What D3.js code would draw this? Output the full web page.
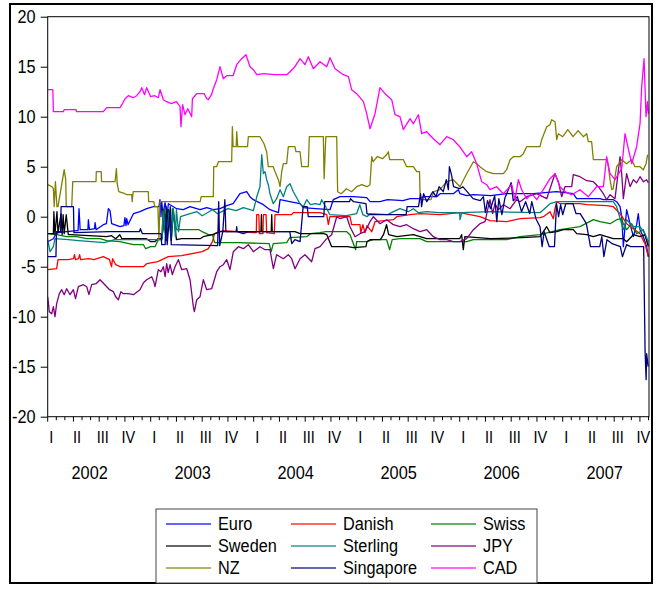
<!DOCTYPE html>
<html>
<head>
<meta charset="utf-8">
<script src="https://cdn.jsdelivr.net/npm/d3@7"></script>
<style>
  body { margin: 0; background: #fff; }
  text { font-family: "Liberation Sans", Arial, sans-serif; fill: #000; }
</style>
</head>
<body>
<svg id="chart" width="665" height="589"></svg>
<script>
// series: [decimal year, value]
const euro = [[2002.0,-2.5],[2002.055,-2.2],[2002.08,-1.7],[2002.104,-1.6],[2002.184,-1.5],[2002.28,-1.4],[2002.295,-1.4],[2002.304,0.8],[2002.315,-1.3],[2002.39,-1.3],[2002.395,-0.3],[2002.405,-1.3],[2002.455,-1.2],[2002.46,-0.6],[2002.47,-1.3],[2002.54,-0.8],[2002.57,-0.7],[2002.589,0.8],[2002.605,0.6],[2002.621,-0.7],[2002.702,-1.0],[2002.74,-0.9],[2002.75,-0.1],[2002.76,-0.9],[2002.767,-0.2],[2002.78,-0.8],[2002.832,0.3],[2002.896,0.5],[2002.961,0.8],[2003.026,1.0],[2003.08,1.0],[2003.09,1.7],[2003.1,0.0],[2003.107,1.5],[2003.12,0.2],[2003.139,1.4],[2003.16,0.3],[2003.172,1.3],[2003.252,0.8],[2003.317,0.7],[2003.382,1.0],[2003.479,0.7],[2003.544,0.9],[2003.608,0.7],[2003.673,0.8],[2003.738,1.1],[2003.80,1.3],[2003.867,2.3],[2003.932,2.5],[2003.964,2.0],[2003.997,1.7],[2004.094,1.2],[2004.158,0.7],[2004.24,0.4],[2004.256,1.7],[2004.35,1.5],[2004.45,1.3],[2004.482,0.9],[2004.6,0.8],[2004.741,0.7],[2004.773,1.7],[2004.838,2.0],[2004.968,2.0],[2005.097,1.9],[2005.13,1.5],[2005.226,1.5],[2005.3,1.7],[2005.45,1.6],[2005.518,1.8],[2005.615,1.8],[2005.647,2.0],[2005.777,2.0],[2005.809,2.3],[2005.938,2.3],[2005.987,2.7],[2006.003,2.3],[2006.07,2.1],[2006.133,2.2],[2006.3,2.1],[2006.456,2.3],[2006.715,2.3],[2006.942,2.5],[2007.103,2.3],[2007.136,1.8],[2007.362,1.8],[2007.395,1.7],[2007.492,1.7],[2007.524,1.5],[2007.557,1.0],[2007.573,0.0],[2007.589,-3.0],[2007.605,-1.0],[2007.621,0.7],[2007.654,-0.7],[2007.686,-2.0],[2007.718,-0.8],[2007.734,0.3],[2007.751,-1.3],[2007.783,-2.0],[2007.815,-3.0],[2007.831,-4.0]];

const danish = [[2002.0,-5.3],[2002.087,-5.2],[2002.1,-4.3],[2002.2,-4.3],[2002.25,-4.2],[2002.26,-3.8],[2002.27,-4.3],[2002.3,-4.2],[2002.31,-3.8],[2002.32,-4.3],[2002.4,-4.2],[2002.45,-4.3],[2002.54,-4.0],[2002.6,-4.3],[2002.62,-5.0],[2002.63,-4.2],[2002.66,-4.8],[2002.702,-5.0],[2002.93,-5.0],[2002.961,-4.7],[2003.07,-4.5],[2003.17,-4.0],[2003.3,-3.9],[2003.5,-3.5],[2003.56,-3.2],[2003.6,-2.5],[2003.62,-1.7],[2003.7,-1.4],[2003.85,-1.5],[2003.997,-1.6],[2004.025,-1.6],[2004.029,0.2],[2004.05,0.2],[2004.055,-1.7],[2004.09,-1.7],[2004.094,0.2],[2004.12,0.2],[2004.126,-1.6],[2004.2,-1.7],[2004.207,0.2],[2004.369,0.2],[2004.385,0.4],[2004.644,0.4],[2004.709,0.2],[2004.725,-0.8],[2004.74,0.0],[2004.935,0.0],[2004.951,-0.8],[2005.032,-0.8],[2005.04,-1.6],[2005.06,-0.8],[2005.08,-1.6],[2005.1,-0.9],[2005.146,-1.5],[2005.178,-0.5],[2005.356,-0.3],[2005.388,0.0],[2005.518,0.2],[2005.615,0.3],[2005.809,0.2],[2006.003,0.4],[2006.197,0.0],[2006.294,-0.4],[2006.456,-0.5],[2006.586,-0.2],[2006.78,-0.1],[2006.812,0.0],[2006.877,0.5],[2006.909,-0.2],[2006.925,0.8],[2006.942,1.5],[2006.974,1.3],[2007.168,1.3],[2007.233,1.2],[2007.427,1.1],[2007.492,1.0],[2007.557,0.3],[2007.621,-0.7],[2007.751,-1.7],[2007.799,-2.7],[2007.831,-4.0]];

const swiss = [[2002.0,-1.7],[2002.087,-1.8],[2002.184,-2.0],[2002.28,-2.0],[2002.379,-2.2],[2002.508,-2.2],[2002.573,-2.4],[2002.7,-2.5],[2002.832,-2.8],[2002.93,-2.8],[2002.951,-3.2],[2003.0,-3.0],[2003.042,-3.0],[2003.074,-2.3],[2003.1,-2.3],[2003.123,-1.3],[2003.13,0.8],[2003.16,-1.3],[2003.17,0.7],[2003.2,-1.4],[2003.21,0.8],[2003.25,-1.3],[2003.3,-1.3],[2003.47,-1.3],[2003.5,-1.5],[2003.56,-1.8],[2003.6,-1.8],[2003.62,-2.6],[2003.85,-2.6],[2004.15,-2.7],[2004.17,-3.5],[2004.19,-2.7],[2004.32,-2.6],[2004.35,-2.1],[2004.515,-2.0],[2004.55,-1.7],[2004.644,-1.6],[2004.7,-1.5],[2004.903,-1.5],[2004.935,-1.8],[2004.99,-3.3],[2005.0,-2.5],[2005.097,-2.5],[2005.162,-2.3],[2005.291,-2.3],[2005.32,-3.3],[2005.345,-2.3],[2005.42,-2.2],[2005.615,-2.2],[2005.68,-2.5],[2006.068,-2.5],[2006.133,-2.3],[2006.456,-2.3],[2006.586,-2.0],[2006.78,-1.8],[2006.974,-1.3],[2007.168,-1.0],[2007.298,-0.3],[2007.362,-0.5],[2007.46,-0.7],[2007.524,-0.3],[2007.573,-0.2],[2007.589,-0.7],[2007.621,-1.3],[2007.67,-0.7],[2007.718,-1.7],[2007.783,-1.3],[2007.831,-2.8]];

const sweden = [[2002.0,-1.7],[2002.055,-1.7],[2002.06,0.5],[2002.07,-1.8],[2002.09,0.5],[2002.1,-1.6],[2002.13,0.3],[2002.14,-1.8],[2002.15,0.2],[2002.16,-1.7],[2002.18,0.2],[2002.2,-1.8],[2002.22,-1.8],[2002.4,-1.9],[2002.573,-2.0],[2002.62,-1.9],[2002.66,-2.2],[2002.7,-1.8],[2002.72,-2.2],[2002.96,-2.2],[2003.0,-2.5],[2003.04,-2.5],[2003.07,-2.2],[2003.11,-2.2],[2003.12,0.7],[2003.15,-2.4],[2003.17,0.7],[2003.2,-2.4],[2003.22,0.6],[2003.25,-2.3],[2003.3,-2.2],[2003.48,-2.2],[2003.51,-2.0],[2003.6,-1.8],[2003.673,-1.5],[2004.07,-1.5],[2004.075,0.2],[2004.08,-1.5],[2004.17,-1.5],[2004.175,0.2],[2004.18,-1.5],[2004.4,-1.5],[2004.45,-1.7],[2004.68,-1.7],[2004.71,-1.8],[2004.757,-3.0],[2004.91,-3.0],[2004.97,-3.1],[2005.09,-3.0],[2005.1,-2.5],[2005.13,-2.3],[2005.23,-2.3],[2005.26,-1.8],[2005.29,-0.8],[2005.31,-1.8],[2005.39,-2.0],[2005.55,-1.8],[2005.615,-2.0],[2005.68,-2.2],[2006.0,-2.2],[2006.019,-1.8],[2006.035,-3.3],[2006.05,-2.0],[2006.3,-2.2],[2006.6,-2.1],[2006.78,-2.0],[2006.845,-1.0],[2006.877,-1.6],[2006.942,-1.5],[2007.006,-1.3],[2007.103,-1.3],[2007.136,-1.7],[2007.233,-1.8],[2007.298,-2.0],[2007.362,-1.8],[2007.427,-2.0],[2007.492,-2.2],[2007.589,-2.2],[2007.621,-2.5],[2007.686,-1.8],[2007.751,-2.0],[2007.799,-1.8],[2007.831,-3.0]];

const sterling = [[2002.0,-2.3],[2002.023,-3.5],[2002.055,-3.0],[2002.071,-2.2],[2002.2,-2.3],[2002.3,-2.4],[2002.55,-2.6],[2002.65,-2.3],[2002.8,-2.3],[2003.11,-2.3],[2003.12,0.6],[2003.15,-2.2],[2003.18,0.6],[2003.2,-2.2],[2003.22,0.8],[2003.24,-2.0],[2003.25,0.7],[2003.27,-1.5],[2003.29,0.0],[2003.35,0.2],[2003.45,0.5],[2003.5,0.1],[2003.55,0.4],[2003.6,0.7],[2003.65,0.3],[2003.75,0.8],[2003.83,0.6],[2003.9,0.9],[2003.997,0.6],[2004.03,2.0],[2004.061,3.0],[2004.078,6.2],[2004.094,4.3],[2004.11,4.5],[2004.126,3.7],[2004.142,3.2],[2004.158,2.3],[2004.19,1.3],[2004.223,1.8],[2004.256,2.7],[2004.288,2.0],[2004.32,3.0],[2004.353,3.3],[2004.385,2.5],[2004.45,1.3],[2004.482,1.0],[2004.515,1.7],[2004.55,1.2],[2004.6,1.3],[2004.644,1.2],[2004.66,1.7],[2004.709,0.8],[2004.74,0.2],[2004.9,0.1],[2004.999,0.3],[2005.03,1.2],[2005.06,0.2],[2005.1,0.0],[2005.13,0.3],[2005.3,0.2],[2005.356,0.5],[2005.42,0.8],[2005.5,0.5],[2005.55,0.8],[2005.6,0.4],[2005.68,0.5],[2005.8,0.4],[2006.0,0.4],[2006.003,-0.3],[2006.02,0.4],[2006.3,0.5],[2006.78,0.4],[2006.877,1.3],[2006.942,1.5],[2007.17,1.5],[2007.49,1.5],[2007.524,1.0],[2007.589,-1.3],[2007.605,-0.7],[2007.621,-0.3],[2007.686,-1.0],[2007.751,-1.0],[2007.799,-1.7],[2007.831,-2.5]];

const jpy = [[2002.0,-8.0],[2002.016,-9.5],[2002.039,-9.7],[2002.055,-9.0],[2002.071,-10.0],[2002.087,-8.7],[2002.113,-7.7],[2002.136,-7.3],[2002.16,-7.8],[2002.184,-7.2],[2002.217,-7.8],[2002.249,-7.3],[2002.27,-8.2],[2002.298,-7.0],[2002.346,-6.8],[2002.379,-7.0],[2002.4,-7.8],[2002.427,-6.8],[2002.47,-6.7],[2002.508,-6.3],[2002.573,-7.0],[2002.6,-7.3],[2002.638,-7.5],[2002.66,-8.0],[2002.686,-8.3],[2002.71,-7.5],[2002.735,-7.7],[2002.783,-7.7],[2002.832,-7.8],[2002.896,-7.3],[2002.93,-6.6],[2002.961,-6.3],[2003.010,-6.0],[2003.03,-6.5],[2003.042,-7.0],[2003.074,-5.3],[2003.1,-5.5],[2003.123,-5.0],[2003.14,-6.0],[2003.155,-4.7],[2003.17,-5.6],[2003.188,-4.8],[2003.21,-5.8],[2003.236,-5.0],[2003.269,-4.3],[2003.301,-5.3],[2003.350,-5.2],[2003.382,-6.3],[2003.414,-9.0],[2003.424,-9.5],[2003.447,-8.3],[2003.479,-8.0],[2003.511,-6.3],[2003.544,-7.3],[2003.592,-7.2],[2003.641,-5.5],[2003.673,-5.0],[2003.705,-4.8],[2003.738,-4.3],[2003.77,-5.3],[2003.802,-3.5],[2003.851,-3.0],[2003.9,-3.2],[2003.948,-2.8],[2003.997,-3.5],[2004.061,-3.0],[2004.11,-3.3],[2004.158,-3.3],[2004.191,-5.2],[2004.223,-3.8],[2004.288,-4.2],[2004.336,-3.8],[2004.369,-4.2],[2004.401,-5.2],[2004.45,-4.2],[2004.498,-3.8],[2004.563,-4.5],[2004.595,-3.2],[2004.644,-3.0],[2004.709,-2.2],[2004.757,-1.8],[2004.806,0.0],[2004.838,-0.2],[2004.903,0.0],[2004.935,-1.0],[2004.984,-2.0],[2005.032,-1.7],[2005.081,-1.5],[2005.129,-0.5],[2005.162,0.0],[2005.226,-0.7],[2005.291,-0.3],[2005.356,-0.8],[2005.42,-1.0],[2005.485,-0.8],[2005.55,-1.2],[2005.615,-1.5],[2005.68,-1.3],[2005.744,-2.0],[2005.809,-2.3],[2005.874,-2.3],[2005.938,-2.5],[2006.003,-2.5],[2006.068,-2.2],[2006.133,-1.3],[2006.197,-0.7],[2006.246,-0.5],[2006.278,1.0],[2006.294,1.7],[2006.32,0.3],[2006.343,1.3],[2006.375,0.7],[2006.424,1.2],[2006.489,0.8],[2006.553,1.7],[2006.586,1.5],[2006.65,2.0],[2006.748,2.3],[2006.845,1.8],[2006.925,4.3],[2006.958,3.5],[2006.99,2.0],[2007.022,3.0],[2007.087,3.0],[2007.103,4.2],[2007.168,4.0],[2007.233,3.6],[2007.298,3.5],[2007.346,3.0],[2007.395,2.3],[2007.427,1.7],[2007.46,2.2],[2007.508,1.8],[2007.557,6.0],[2007.573,4.3],[2007.589,1.8],[2007.621,4.3],[2007.654,3.0],[2007.686,3.7],[2007.718,3.4],[2007.751,4.0],[2007.783,3.5],[2007.815,3.7],[2007.831,3.4]];

const nz = [[2002.0,3.2],[2002.04,3.0],[2002.055,2.8],[2002.063,1.0],[2002.075,3.5],[2002.09,1.0],[2002.10,1.0],[2002.16,4.7],[2002.175,3.7],[2002.18,1.0],[2002.233,1.0],[2002.243,3.5],[2002.469,3.5],[2002.472,4.5],[2002.52,4.5],[2002.523,3.5],[2002.654,3.5],[2002.667,4.8],[2002.675,3.3],[2002.69,2.5],[2002.75,2.3],[2002.767,2.2],[2002.816,2.2],[2002.82,1.5],[2002.83,2.5],[2002.977,2.5],[2002.98,1.5],[2003.03,1.5],[2003.04,1.0],[2003.07,1.0],[2003.08,-2.3],[2003.09,1.5],[2003.48,1.5],[2003.49,2.0],[2003.608,2.0],[2003.612,5.0],[2003.641,5.0],[2003.657,5.5],[2003.786,5.5],[2003.793,9.0],[2003.80,7.0],[2003.83,7.0],[2003.835,8.5],[2003.845,7.0],[2003.94,7.0],[2003.948,8.0],[2004.061,8.0],[2004.1,7.3],[2004.126,6.5],[2004.142,5.0],[2004.19,5.0],[2004.207,4.5],[2004.24,3.7],[2004.256,3.0],[2004.272,4.5],[2004.288,5.3],[2004.32,5.3],[2004.336,7.0],[2004.40,7.0],[2004.41,6.5],[2004.45,6.5],[2004.466,5.0],[2004.53,5.0],[2004.54,8.0],[2004.676,8.0],[2004.684,3.8],[2004.70,8.0],[2004.806,8.0],[2004.815,2.5],[2004.85,2.3],[2004.9,2.8],[2004.95,2.5],[2005.0,3.0],[2005.05,3.2],[2005.10,3.0],[2005.129,3.2],[2005.146,6.0],[2005.16,5.5],[2005.2,6.0],[2005.25,5.8],[2005.291,6.2],[2005.307,6.5],[2005.32,5.7],[2005.453,5.7],[2005.485,5.0],[2005.55,5.0],[2005.583,4.5],[2005.61,4.5],[2005.615,2.3],[2005.63,1.7],[2005.72,1.7],[2005.75,2.5],[2005.809,2.7],[2005.874,3.5],[2005.938,3.7],[2006.003,3.0],[2006.068,4.3],[2006.133,5.5],[2006.165,5.3],[2006.197,5.0],[2006.262,4.5],[2006.327,4.3],[2006.424,4.3],[2006.456,4.7],[2006.489,5.7],[2006.521,6.0],[2006.586,6.0],[2006.618,6.3],[2006.65,7.0],[2006.78,7.0],[2006.796,7.7],[2006.845,9.0],[2006.877,9.2],[2006.893,9.7],[2006.926,9.5],[2006.942,7.7],[2006.958,8.3],[2007.0,8.0],[2007.05,8.7],[2007.1,8.0],[2007.15,8.6],[2007.2,8.0],[2007.233,8.3],[2007.249,7.5],[2007.281,7.5],[2007.298,5.7],[2007.427,5.7],[2007.443,5.0],[2007.46,3.7],[2007.476,2.7],[2007.49,2.8],[2007.524,5.0],[2007.573,5.7],[2007.62,5.3],[2007.67,5.7],[2007.702,5.0],[2007.751,5.0],[2007.783,4.7],[2007.809,5.3],[2007.825,6.2]];

const singapore = [[2002.0,-4.0],[2002.08,-4.0],[2002.085,-1.5],[2002.125,-1.5],[2002.13,1.0],[2002.25,1.0],[2002.255,-1.6],[2002.6,-1.5],[2002.89,-1.5],[2002.9,-1.2],[2002.92,-1.7],[2003.1,-1.7],[2003.107,-2.8],[2003.14,-2.8],[2003.15,1.0],[2003.16,-2.8],[2003.19,1.0],[2003.2,-2.8],[2003.65,-2.9],[2003.66,1.5],[2003.67,-2.9],[2003.7,-1.5],[2003.72,1.7],[2003.73,-1.5],[2003.83,-1.5],[2003.835,-1.0],[2003.84,-1.5],[2003.9,-1.7],[2003.95,-1.5],[2004.35,-1.5],[2004.37,-2.7],[2004.4,-2.3],[2004.45,-2.5],[2004.48,1.0],[2004.52,1.0],[2004.53,0.0],[2004.68,0.0],[2004.69,1.5],[2004.93,1.5],[2004.94,1.8],[2004.97,1.5],[2005.09,1.3],[2005.1,0.3],[2005.13,0.2],[2005.48,0.2],[2005.49,1.0],[2005.6,1.0],[2005.62,2.3],[2005.63,1.0],[2005.65,2.3],[2005.68,1.5],[2005.74,2.5],[2005.77,2.0],[2005.8,3.0],[2005.84,2.5],[2005.87,3.7],[2005.89,2.7],[2005.9,5.0],[2005.92,4.2],[2005.94,3.0],[2006.0,2.8],[2006.03,3.0],[2006.13,1.8],[2006.2,1.6],[2006.23,2.0],[2006.25,0.4],[2006.27,1.6],[2006.3,0.8],[2006.34,2.1],[2006.36,-0.5],[2006.38,1.8],[2006.41,0.2],[2006.44,1.9],[2006.5,3.4],[2006.52,1.6],[2006.56,2.0],[2006.6,0.5],[2006.64,1.5],[2006.68,0.3],[2006.7,1.5],[2006.74,-0.2],[2006.78,-1.0],[2006.8,-3.0],[2006.82,-1.5],[2006.87,-3.0],[2006.92,-3.0],[2006.94,1.3],[2006.96,0.0],[2006.98,1.2],[2007.0,0.2],[2007.03,1.3],[2007.1,1.3],[2007.13,0.3],[2007.17,0.3],[2007.23,-0.7],[2007.27,-3.0],[2007.36,-3.0],[2007.38,-2.0],[2007.4,-4.0],[2007.43,-2.3],[2007.48,-2.7],[2007.56,-3.0],[2007.58,-4.0],[2007.62,-2.8],[2007.66,-3.0],[2007.786,-3.0],[2007.795,-9.7],[2007.80,-13.5],[2007.81,-16.3],[2007.815,-13.7],[2007.83,-15.0]];

const cad = [[2002.0,12.7],[2002.05,12.7],[2002.055,10.5],[2002.152,10.5],[2002.16,10.7],[2002.275,10.7],[2002.28,10.5],[2002.54,10.5],[2002.573,10.9],[2002.702,10.9],[2002.72,11.2],[2002.751,11.8],[2002.783,12.1],[2002.83,11.9],[2002.864,12.1],[2002.896,12.5],[2002.913,12.9],[2002.94,12.2],[2002.961,12.9],[2003.0,12.0],[2003.04,12.1],[2003.074,11.9],[2003.091,12.7],[2003.123,11.7],[2003.155,11.5],[2003.2,11.3],[2003.25,11.5],[2003.285,11.0],[2003.294,9.0],[2003.31,11.2],[2003.333,10.2],[2003.36,10.8],[2003.398,10.0],[2003.405,11.8],[2003.447,12.3],[2003.52,12.3],[2003.544,11.8],[2003.56,11.7],[2003.59,12.2],[2003.608,12.8],[2003.641,13.7],[2003.673,15.0],[2003.705,13.8],[2003.738,14.1],[2003.80,14.1],[2003.835,15.2],[2003.883,15.8],[2003.925,16.2],[2003.964,15.0],[2003.997,14.7],[2004.03,14.2],[2004.1,14.3],[2004.2,14.2],[2004.32,14.2],[2004.353,14.5],[2004.40,15.0],[2004.45,15.8],[2004.498,15.2],[2004.53,16.0],[2004.579,14.8],[2004.644,15.5],[2004.709,15.0],[2004.741,15.9],[2004.79,14.8],[2004.87,14.2],[2004.92,14.0],[2004.951,12.7],[2005.0,12.3],[2005.065,11.5],[2005.097,10.3],[2005.129,8.8],[2005.178,10.3],[2005.226,12.9],[2005.275,12.3],[2005.34,11.7],[2005.372,10.2],[2005.42,10.0],[2005.453,8.7],[2005.518,9.8],[2005.55,9.3],[2005.599,10.2],[2005.631,8.3],[2005.679,8.5],[2005.744,7.8],[2005.809,7.2],[2005.874,8.0],[2005.938,7.7],[2006.0,7.0],[2006.068,6.0],[2006.116,6.5],[2006.165,5.3],[2006.213,3.5],[2006.262,3.2],[2006.294,2.7],[2006.359,3.0],[2006.424,2.3],[2006.505,3.2],[2006.537,1.7],[2006.57,3.7],[2006.602,2.7],[2006.65,1.8],[2006.699,2.3],[2006.748,1.7],[2006.812,2.7],[2006.877,3.8],[2006.925,4.3],[2006.974,3.0],[2007.022,2.5],[2007.087,2.2],[2007.168,2.7],[2007.249,2.0],[2007.33,3.0],[2007.395,3.0],[2007.427,6.0],[2007.46,4.3],[2007.508,3.7],[2007.573,4.8],[2007.605,8.3],[2007.637,6.8],[2007.67,5.3],[2007.718,7.0],[2007.751,9.3],[2007.767,13.0],[2007.79,15.8],[2007.809,10.0],[2007.822,11.5],[2007.831,10.3]];

const seriesNames = ["Euro", "Danish", "Swiss", "Sweden", "Sterling", "JPY", "NZ", "Singapore", "CAD"];
const seriesColors = ["#0000ff", "#ff0000", "#008000", "#000000", "#008080", "#800080", "#808000", "#000080", "#ff00ff"];
const seriesData = [euro, danish, swiss, sweden, sterling, jpy, nz, singapore, cad];

const yTicks = [20, 15, 10, 5, 0, -5, -10, -15, -20];
const years = [2002, 2003, 2004, 2005, 2006, 2007];
const quarterLabels = ["I", "II", "III", "IV"];
const dateRange = [2002, 2007.838];

const svg = d3.select("#chart");
const plotLeft = 47.7, plotRight = 649, plotTop = 16.7, plotBottom = 416.7;

const x = d3.scaleLinear().domain(dateRange).range([plotLeft, plotRight]);
const y = d3.scaleLinear().domain([-20, 20]).range([plotBottom, plotTop]);

// squeezed text, like the narrow font of the original
function label(g, px, py, s, size, anchor, sx) {
  g.append("text")
    .attr("transform", `translate(${px},${py}) scale(${sx},1)`)
    .attr("text-anchor", anchor)
    .attr("dominant-baseline", "central")
    .style("font-size", size + "px")
    .text(s);
}

// outer frame
svg.append("rect")
  .attr("x", 10).attr("y", 4).attr("width", 642).attr("height", 579)
  .attr("fill", "none").attr("stroke", "#000").attr("stroke-width", 2);

// y axis
const yAxis = svg.append("g").attr("transform", `translate(${plotLeft},0)`)
  .call(d3.axisLeft(y).tickValues(yTicks).tickSize(7).tickSizeOuter(0).tickFormat(""));
yAxis.select(".domain").remove();
yTicks.forEach(v => label(svg, 35.5, y(v), String(v), 18.5, "end", 0.88));

// x axis: monthly ticks, longer at quarters
const months = d3.range(0, 71).map(m => 2002 + m / 12);
svg.append("g").selectAll("line").data(months).join("line")
  .attr("x1", d => x(d)).attr("x2", d => x(d))
  .attr("y1", plotBottom).attr("y2", (d, i) => plotBottom + (i % 3 === 0 ? 5 : 3.5))
  .attr("stroke", "#000").attr("stroke-width", 1);

years.forEach(yr => {
  quarterLabels.forEach((q, i) => {
    label(svg, x(yr + i / 4) + 3.5, 437, q, 16.5, "middle", 0.88);
  });
  label(svg, x(yr) + 42, 473, String(yr), 19, "middle", 0.86);
});

// lines
svg.append("clipPath").attr("id", "plotclip")
  .append("rect").attr("x", plotLeft).attr("y", plotTop)
  .attr("width", plotRight - plotLeft).attr("height", plotBottom - plotTop);

const line = d3.line().x(d => x(d[0])).y(d => y(d[1]));
svg.append("g").attr("clip-path", "url(#plotclip)")
  .selectAll("path").data(seriesData).join("path")
  .attr("d", line)
  .attr("fill", "none")
  .attr("stroke", (d, i) => seriesColors[i])
  .attr("stroke-width", 1.3)
  .attr("stroke-linejoin", "round");

// plot box
svg.append("rect")
  .attr("x", plotLeft).attr("y", plotTop)
  .attr("width", plotRight - plotLeft).attr("height", plotBottom - plotTop)
  .attr("fill", "none").attr("stroke", "#000").attr("stroke-width", 1);

// legend
const legend = svg.append("g");
legend.append("rect")
  .attr("x", 156).attr("y", 509).attr("width", 381).attr("height", 74)
  .attr("fill", "#fff").attr("stroke", "#444").attr("stroke-width", 1);
const colX = [166, 291, 431];
const rowY = [524, 546, 568];
seriesNames.forEach((name, i) => {
  const cx = colX[i % 3], cy = rowY[Math.floor(i / 3)];
  legend.append("line")
    .attr("x1", cx).attr("x2", cx + 45).attr("y1", cy).attr("y2", cy)
    .attr("stroke", seriesColors[i]).attr("stroke-width", 1.5).attr("opacity", 0.8);
  label(legend, cx + 52, cy, name, 18.5, "start", 0.88);
});
</script>
</body>
</html>
